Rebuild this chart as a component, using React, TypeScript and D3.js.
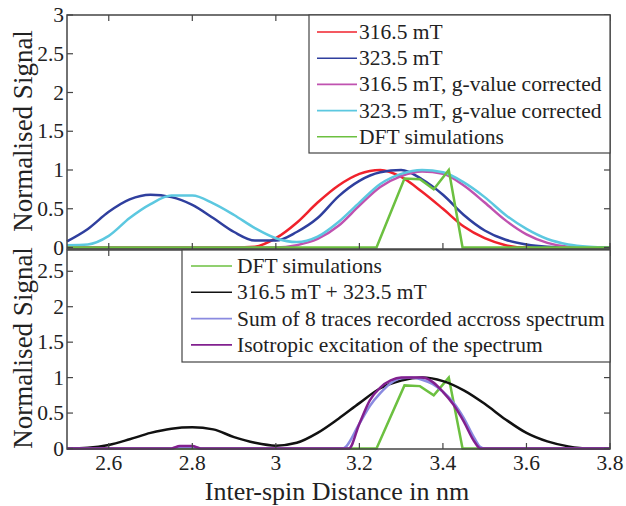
import React from "react";
import * as d3 from "d3";

// ---------- DATA ----------
const X = [2.5, 2.55, 2.6, 2.65, 2.7, 2.75, 2.8, 2.85, 2.9, 2.95, 3.0, 3.05, 3.1, 3.15, 3.2, 3.25, 3.3, 3.35, 3.4, 3.45, 3.5, 3.55, 3.6, 3.65, 3.7, 3.75, 3.8];

const red3165 = [0, 0, 0, 0, 0, 0, 0, 0, 0, 0.01, 0.12, 0.32, 0.58, 0.8, 0.95, 1.0, 0.91, 0.72, 0.5, 0.27, 0.12, 0.03, 0, 0, 0, 0, 0];
const blue3235 = [0.08, 0.24, 0.46, 0.62, 0.68, 0.65, 0.55, 0.38, 0.2, 0.09, 0.09, 0.2, 0.38, 0.66, 0.86, 0.97, 1.0, 0.88, 0.68, 0.42, 0.22, 0.1, 0.04, 0.01, 0, 0, 0];
const magentaCorr = [0, 0, 0, 0, 0, 0, 0, 0, 0, 0, 0, 0.03, 0.11, 0.28, 0.54, 0.78, 0.92, 0.98, 0.95, 0.8, 0.58, 0.35, 0.17, 0.06, 0.01, 0, 0];
const cyanCorr = [0.03, 0.04, 0.15, 0.38, 0.56, 0.67, 0.67, 0.57, 0.42, 0.25, 0.12, 0.07, 0.14, 0.33, 0.58, 0.82, 0.95, 1.0, 0.97, 0.84, 0.65, 0.42, 0.24, 0.11, 0.04, 0.01, 0];

const dftX = [2.5, 3.241, 3.308, 3.345, 3.378, 3.414, 3.447, 3.8];
const dftY = [0, 0, 0.89, 0.88, 0.75, 1.0, 0, 0];

const blackSum = [0, 0.01, 0.05, 0.13, 0.22, 0.28, 0.3, 0.27, 0.16, 0.08, 0.04, 0.08, 0.22, 0.42, 0.64, 0.85, 0.96, 1.0, 0.95, 0.82, 0.63, 0.41, 0.22, 0.1, 0.03, 0, 0];

const lavX = [2.5, 2.75, 2.77, 2.8, 2.82, 3.16, 3.2, 3.225, 3.25, 3.275, 3.3, 3.325, 3.35, 3.375, 3.4, 3.425, 3.45, 3.475, 3.49, 3.5, 3.8];
const lavY = [0, 0, 0.02, 0.02, 0, 0, 0.35, 0.6, 0.78, 0.92, 0.99, 1.0, 0.97, 0.91, 0.8, 0.65, 0.43, 0.15, 0.02, 0, 0];

const purX = [2.5, 2.75, 2.77, 2.8, 2.82, 3.175, 3.2, 3.225, 3.25, 3.275, 3.3, 3.35, 3.375, 3.4, 3.425, 3.45, 3.475, 3.49, 3.8];
const purY = [0, 0, 0.035, 0.035, 0, 0, 0.35, 0.68, 0.86, 0.96, 1.0, 1.0, 0.94, 0.8, 0.62, 0.38, 0.1, 0, 0];

const xTicks = [2.6, 2.8, 3.0, 3.2, 3.4, 3.6, 3.8];
const yTicksTop = [0, 0.5, 1, 1.5, 2, 2.5, 3];
const yTicksBot = [0, 0.5, 1, 1.5, 2, 2.5];

const legendTop = ["316.5 mT", "323.5 mT", "316.5 mT, g-value corrected", "323.5 mT, g-value corrected", "DFT simulations"];
const legendBot = ["DFT simulations", "316.5 mT + 323.5 mT", "Sum of 8 traces recorded accross spectrum", "Isotropic excitation of the spectrum"];

// ---------- STYLE ----------
const C = {
  red: "#f0222c",
  blue: "#2f3f9e",
  magenta: "#c052b0",
  cyan: "#5cc8e0",
  green: "#6cc040",
  black: "#111111",
  lav: "#8a8ae0",
  pur: "#82208f",
};
const FONT = "Liberation Serif";
const AX = "#444";

const L = 67, R = 610;
const x = d3.scaleLinear().domain([2.5, 3.8]).range([L, R]);
const yT = d3.scaleLinear().domain([0, 3]).range([247.5, 15]);
const yB = d3.scaleLinear().domain([0, 2.8]).range([448.5, 250]);

function pathOf(xs: number[], ys: number[], ys2: d3.ScaleLinear<number, number>, curve: d3.CurveFactory) {
  const g = d3.line<number>().x((_, i) => x(xs[i])).y((v) => ys2(v)).curve(curve);
  return g(ys) || "";
}

function Frame({ top, bottom, yScale, ticks }: { top: number; bottom: number; yScale: d3.ScaleLinear<number, number>; ticks: number[] }) {
  const tl = 6;
  return (
    <g>
      <rect x={L} y={top} width={R - L} height={bottom - top} fill="none" stroke={AX} strokeWidth={1.5} />
      {xTicks.map((t) => (
        <g key={"x" + t}>
          <line x1={x(t)} x2={x(t)} y1={bottom} y2={bottom - tl} stroke={AX} strokeWidth={1.2} />
          <line x1={x(t)} x2={x(t)} y1={top} y2={top + tl} stroke={AX} strokeWidth={1.2} />
        </g>
      ))}
      {ticks.map((t) => (
        <g key={"y" + t}>
          <line x1={L} x2={L + tl} y1={yScale(t)} y2={yScale(t)} stroke={AX} strokeWidth={1.2} />
          <line x1={R} x2={R - tl} y1={yScale(t)} y2={yScale(t)} stroke={AX} strokeWidth={1.2} />
          <text x={64} y={yScale(t) + 7} textAnchor="end" fontSize={21.5} fontFamily={FONT} fill="#222">
            {String(t)}
          </text>
        </g>
      ))}
    </g>
  );
}

export default function App() {
  const lw = 2.5;
  const topColors = [C.red, C.blue, C.magenta, C.cyan, C.green];
  const botColors = [C.green, C.black, C.lav, C.pur];
  return (
    <svg width={626} height={506} style={{ display: "block", position: "absolute", left: 0, top: 0 }}>
      <rect width={626} height={506} fill="#fff" />
      {/* top panel curves */}
      <path d={pathOf(X, red3165, yT, d3.curveMonotoneX)} fill="none" stroke={C.red} strokeWidth={lw} />
      <path d={pathOf(X, blue3235, yT, d3.curveMonotoneX)} fill="none" stroke={C.blue} strokeWidth={lw} />
      <path d={pathOf(X, magentaCorr, yT, d3.curveMonotoneX)} fill="none" stroke={C.magenta} strokeWidth={lw} />
      <path d={pathOf(X, cyanCorr, yT, d3.curveMonotoneX)} fill="none" stroke={C.cyan} strokeWidth={lw} />
      <path d={pathOf(dftX, dftY, yT, d3.curveLinear)} fill="none" stroke={C.green} strokeWidth={lw} />

      {/* bottom panel curves */}
      <path d={pathOf(dftX, dftY, yB, d3.curveLinear)} fill="none" stroke={C.green} strokeWidth={lw} />
      <path d={pathOf(X, blackSum, yB, d3.curveMonotoneX)} fill="none" stroke={C.black} strokeWidth={lw} />
      <path d={pathOf(lavX, lavY, yB, d3.curveMonotoneX)} fill="none" stroke={C.lav} strokeWidth={lw} />
      <path d={pathOf(purX, purY, yB, d3.curveMonotoneX)} fill="none" stroke={C.pur} strokeWidth={lw} />

      <Frame top={15} bottom={249} yScale={yT} ticks={yTicksTop} />
      <Frame top={250} bottom={449} yScale={yB} ticks={yTicksBot} />

      {/* top legend */}
      <g>
        <rect x={309} y={15} width={R - 309} height={138} fill="#fff" stroke={AX} strokeWidth={1.2} />
        {legendTop.map((s, i) => {
          const yy = 32 + i * 26.2;
          return (
            <g key={s}>
              <line x1={317} x2={357} y1={yy} y2={yy} stroke={topColors[i]} strokeWidth={1.6} />
              <text x={359} y={yy + 7} fontSize={21.5} fontFamily={FONT} fill="#222">{s}</text>
            </g>
          );
        })}
      </g>
      {/* bottom legend */}
      <g>
        <rect x={182} y={250} width={R - 182} height={112} fill="#fff" stroke={AX} strokeWidth={1.2} />
        {legendBot.map((s, i) => {
          const yy = 266 + i * 26.3;
          return (
            <g key={s}>
              <line x1={191} x2={232} y1={yy} y2={yy} stroke={botColors[i]} strokeWidth={1.6} />
              <text x={237} y={yy + 7} fontSize={21.5} fontFamily={FONT} fill="#222">{s}</text>
            </g>
          );
        })}
      </g>

      {/* x tick labels */}
      {xTicks.map((t) => (
        <text key={"xl" + t} x={x(t)} y={470} textAnchor="middle" fontSize={21.5} fontFamily={FONT} fill="#222">
          {t === 3 ? "3" : t.toFixed(1)}
        </text>
      ))}
      <text x={337} y={499.5} textAnchor="middle" fontSize={26} fontFamily={FONT} fill="#222">
        Inter-spin Distance in nm
      </text>
      <text transform={`translate(32,131) rotate(-90)`} textAnchor="middle" fontSize={27} fontFamily={FONT} fill="#222">
        Normalised Signal
      </text>
      <text transform={`translate(32,348) rotate(-90)`} textAnchor="middle" fontSize={27} fontFamily={FONT} fill="#222">
        Normalised Signal
      </text>
    </svg>
  );
}
